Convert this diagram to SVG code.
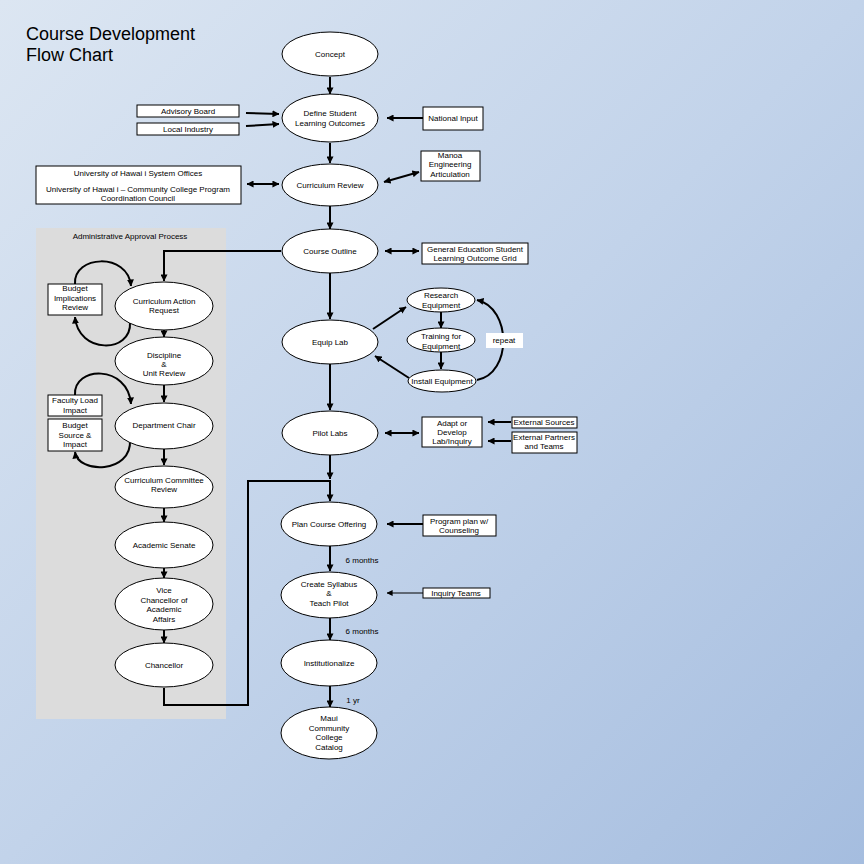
<svg xmlns="http://www.w3.org/2000/svg" width="864" height="864" viewBox="0 0 864 864">
<defs>
<linearGradient id="bg" x1="0" y1="0" x2="1" y2="1">
<stop offset="0" stop-color="#dce6f2"/>
<stop offset="0.5" stop-color="#c2d3ea"/>
<stop offset="1" stop-color="#a5bddf"/>
</linearGradient>
<marker id="ah" viewBox="0 0 8 8" refX="7.5" refY="4" markerWidth="7" markerHeight="7" markerUnits="userSpaceOnUse" orient="auto-start-reverse">
<path d="M0,0 L8,4 L0,8 z" fill="#000"/>
</marker>
<marker id="ahs" viewBox="0 0 8 8" refX="7.5" refY="4" markerWidth="6" markerHeight="6" markerUnits="userSpaceOnUse" orient="auto-start-reverse">
<path d="M0,0 L8,4 L0,8 z" fill="#000"/>
</marker>
</defs>
<style>
text{font-family:"Liberation Sans",Arial,sans-serif;font-size:8px;fill:#000;text-anchor:middle}
.t{font-size:18px;text-anchor:start}
ellipse,.box{fill:#fff;stroke:#000;stroke-width:1}
.c{fill:none;stroke:#000;stroke-width:2}
.a{marker-end:url(#ah)}
.d{marker-start:url(#ah);marker-end:url(#ah)}
.thin{fill:none;stroke:#000;stroke-width:1;marker-end:url(#ahs)}
</style>
<rect width="864" height="864" fill="url(#bg)"/>
<rect x="36" y="228" width="190" height="491" fill="#dcdcdc"/>
<text class="t" x="26" y="40">Course Development</text>
<text class="t" x="26" y="61">Flow Chart</text>
<text x="130" y="239">Administrative Approval Process</text>

<g id="connectors">
<path class="c a" d="M330,77 V94"/>
<path class="c a" d="M330,143 V163"/>
<path class="c a" d="M330,206 V229"/>
<path class="c a" d="M330,273 V319"/>
<path class="c a" d="M330,364 V410"/>
<path class="c a" d="M330,455 V479"/>
<path class="c a" d="M164,688 V705 H248 V481 H330 V501"/>
<path class="c a" d="M330,546 V571"/>
<path class="c a" d="M330,618 V640"/>
<path class="c a" d="M330,686 V707"/>
<path class="c a" d="M281,251 H164 V281"/>
<path class="c a" d="M164,330 V337"/>
<path class="c a" d="M164,385 V402"/>
<path class="c a" d="M164,449 V465"/>
<path class="c a" d="M164,508 V522"/>
<path class="c a" d="M164,568 V578"/>
<path class="c a" d="M164,630 V643"/>
<path class="c a" d="M75,284 C73,255 128,252 131,286"/>
<path class="c a" d="M130,322 C132,354 78,354 75,317"/>
<path class="c a" d="M75,395 C73,366 128,364 131,404"/>
<path class="c a" d="M130,440 C132,474 78,474 75,452"/>
<path class="c a" d="M246,113 L279,114"/>
<path class="c a" d="M246,126 L279,124"/>
<path class="c d" d="M247,184 L279,184"/>
<path class="c a" d="M423,118 L387,118"/>
<path class="c d" d="M384,182 L419,172"/>
<path class="c d" d="M385,251 L419,251"/>
<path class="c a" d="M373,329 L406,307"/>
<path class="c a" d="M409,378 L375,356"/>
<path class="c a" d="M441,312 V328"/>
<path class="c a" d="M441,352 V369"/>
<path class="c a" d="M477,380 C512,374 512,308 477,300"/>
<path class="c d" d="M385,433 L419,433"/>
<path class="c a" d="M511,422 L488,422"/>
<path class="c a" d="M511,441 L488,441"/>
<path class="c a" d="M423,524 L387,524"/>
<path class="thin" d="M423,593 L387,593"/>
</g>

<g id="concept"><ellipse cx="330" cy="54" rx="48" ry="22"/><text x="330" y="57">Concept</text></g>
<g id="define"><ellipse cx="330" cy="118" rx="48" ry="24"/><text x="330" y="116">Define Student</text><text x="330" y="126">Learning Outcomes</text></g>
<g id="currreview"><ellipse cx="330" cy="185" rx="48" ry="21"/><text x="330" y="188">Curriculum Review</text></g>
<g id="courseoutline"><ellipse cx="330" cy="251" rx="48" ry="22"/><text x="330" y="254">Course Outline</text></g>
<g id="equiplab"><ellipse cx="330" cy="342" rx="48" ry="22"/><text x="330" y="345">Equip Lab</text></g>
<g id="pilotlabs"><ellipse cx="330" cy="433" rx="48" ry="22"/><text x="330" y="436">Pilot Labs</text></g>
<g id="plancourse"><ellipse cx="329" cy="524" rx="48" ry="22"/><text x="329" y="527">Plan Course Offering</text></g>
<g id="syllabus"><ellipse cx="329" cy="595" rx="48" ry="23"/><text x="329" y="587">Create Syllabus</text><text x="329" y="596">&amp;</text><text x="329" y="606">Teach Pilot</text></g>
<g id="institutionalize"><ellipse cx="329" cy="663" rx="48" ry="23"/><text x="329" y="666">Institutionalize</text></g>
<g id="catalog"><ellipse cx="329" cy="733" rx="48" ry="26"/><text x="329" y="721">Maui</text><text x="329" y="731">Community</text><text x="329" y="740">College</text><text x="329" y="750">Catalog</text></g>

<g id="advisory"><rect class="box" x="137" y="105" width="102" height="12"/><text x="188" y="114">Advisory Board</text></g>
<g id="industry"><rect class="box" x="137" y="123" width="102" height="12"/><text x="188" y="132">Local Industry</text></g>
<g id="uh"><rect class="box" x="36" y="166" width="205" height="38"/><text x="138" y="176">University of Hawai i System Offices</text><text x="138" y="192">University of Hawai i  – Community College Program</text><text x="138" y="201">Coordination Council</text></g>
<g id="national"><rect class="box" x="423" y="107" width="60" height="23"/><text x="453" y="121">National Input</text></g>
<g id="manoa"><rect class="box" x="421" y="151" width="59" height="30"/><text x="450" y="158">Manoa</text><text x="450" y="167">Engineering</text><text x="450" y="177">Articulation</text></g>
<g id="gegrid"><rect class="box" x="422" y="243" width="106" height="21"/><text x="475" y="252">General Education Student</text><text x="475" y="261">Learning Outcome Grid</text></g>
<g id="research"><ellipse cx="441" cy="300" rx="34" ry="12"/><text x="441" y="298">Research</text><text x="441" y="308">Equipment</text></g>
<g id="training"><ellipse cx="441" cy="340" rx="34" ry="12"/><text x="441" y="339">Training for</text><text x="441" y="349">Equipment</text></g>
<g id="install"><ellipse cx="442" cy="381" rx="34" ry="11"/><text x="442" y="384">Install Equipment</text></g>
<g id="repeat"><rect x="486" y="333" width="37" height="15" fill="#fff"/><text x="504" y="343">repeat</text></g>
<g id="adapt"><rect class="box" x="422" y="417" width="60" height="30"/><text x="452" y="426">Adapt or</text><text x="452" y="435">Develop</text><text x="452" y="444">Lab/Inquiry</text></g>
<g id="extsources"><rect class="box" x="512" y="417" width="65" height="11"/><text x="544" y="425">External Sources</text></g>
<g id="extpartners"><rect class="box" x="512" y="432" width="65" height="21"/><text x="544" y="440">External Partners</text><text x="544" y="449">and Teams</text></g>
<g id="programplan"><rect class="box" x="423" y="515" width="73" height="21"/><text x="459" y="524">Program plan w/</text><text x="459" y="533">Counseling</text></g>
<g id="inquiry"><rect class="box" x="423" y="588" width="67" height="10"/><text x="456" y="596">Inquiry Teams</text></g>
<text x="362" y="563">6 months</text>
<text x="362" y="634">6 months</text>
<text x="353" y="703">1 yr</text>

<g id="car"><ellipse cx="164" cy="306" rx="49" ry="24"/><text x="164" y="304">Curriculum Action</text><text x="164" y="313">Request</text></g>
<g id="discipline"><ellipse cx="164" cy="361" rx="49" ry="24"/><text x="164" y="358">Discipline</text><text x="164" y="367">&amp;</text><text x="164" y="376">Unit Review</text></g>
<g id="deptchair"><ellipse cx="164" cy="426" rx="49" ry="23"/><text x="164" y="428">Department Chair</text></g>
<g id="ccr"><ellipse cx="164" cy="487" rx="49" ry="21"/><text x="164" y="483">Curriculum Committee</text><text x="164" y="492">Review</text></g>
<g id="senate"><ellipse cx="164" cy="545" rx="49" ry="23"/><text x="164" y="548">Academic Senate</text></g>
<g id="vicechancellor"><ellipse cx="164" cy="604" rx="49" ry="26"/><text x="164" y="593">Vice</text><text x="164" y="603">Chancellor of</text><text x="164" y="612">Academic</text><text x="164" y="622">Affairs</text></g>
<g id="chancellor"><ellipse cx="164" cy="665" rx="49" ry="22"/><text x="164" y="668">Chancellor</text></g>
<g id="budgetimpl"><rect class="box" x="48" y="284" width="54" height="31"/><text x="75" y="291">Budget</text><text x="75" y="301">Implications</text><text x="75" y="310">Review</text></g>
<g id="facultyload"><rect class="box" x="48" y="395" width="54" height="21"/><text x="75" y="403">Faculty Load</text><text x="75" y="413">Impact</text></g>
<g id="budgetsource"><rect class="box" x="48" y="419" width="54" height="32"/><text x="75" y="428">Budget</text><text x="75" y="438">Source &amp;</text><text x="75" y="447">Impact</text></g>
</svg>
